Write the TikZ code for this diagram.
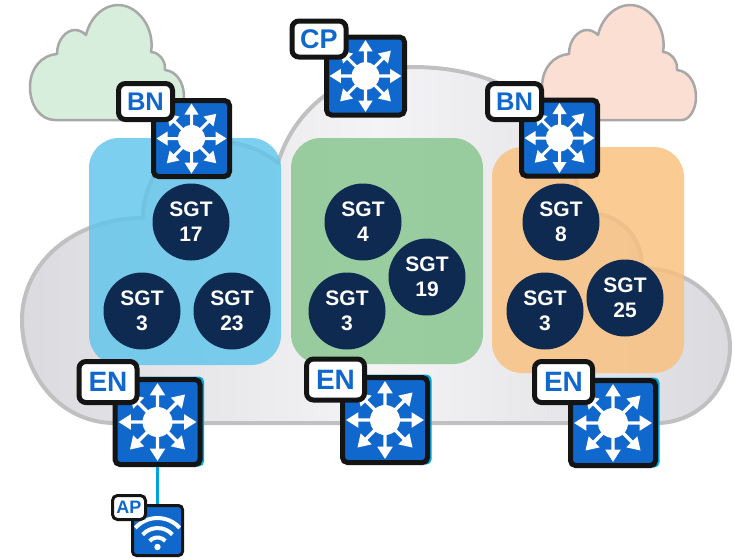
\documentclass[tikz,border=0pt]{standalone}
\usepackage{fontspec}
\setmainfont{Liberation Sans}
\usepackage{tikz}
\tikzstyle{plan} = [x = 1pt, y = -1pt]
\definecolor{cloudLine}{RGB}{192,192,193}
\definecolor{cloudEdge}{RGB}{218,218,223}
\definecolor{cloudMiddle}{RGB}{244,244,246}
\definecolor{smallCloudLine}{RGB}{168,168,168}
\definecolor{greenCloud}{RGB}{214,238,219}
\definecolor{peachCloud}{RGB}{251,223,211}
\definecolor{blueZone}{RGB}{92,196,234}
\definecolor{greenZone}{RGB}{131,195,137}
\definecolor{peachZone}{RGB}{250,191,122}
\definecolor{sgtColor}{RGB}{14,42,80}
\definecolor{switchBlue}{RGB}{16,104,204}
\definecolor{switchBorder}{RGB}{20,20,20}
\definecolor{linkColor}{RGB}{0,165,220}
\tikzstyle{mainCloudStyle} = [draw=cloudLine, line width=4pt, left color=cloudEdge, right color=cloudEdge, middle color=cloudMiddle, line join=round]
\tikzstyle{smallCloudStyle} = [draw=smallCloudLine, line width=2.5pt, line join=round]
\tikzstyle{zoneStyle} = [rounded corners = 30pt, opacity=0.8]
\tikzstyle{sgtStyle} = [circle, fill=sgtColor, text=white, minimum size=77pt, inner sep=0pt, align=center, font=\fontsize{21}{25}\selectfont\bfseries]
\tikzstyle{switchStyle} = [draw=switchBorder, fill=switchBlue, line width=5pt, rounded corners=5pt, inner sep=0pt]
\tikzstyle{edgeStyle} = [fill=linkColor, rounded corners=5pt, inner sep=0pt]
\tikzstyle{tagStyle} = [draw=switchBorder, fill=white, text=switchBlue, line width=5pt, rounded corners=7pt, inner sep=0pt, font=\fontsize{25.5}{26}\selectfont\bfseries]
\tikzstyle{tagLarge} = [tagStyle, minimum width=58pt, minimum height=41pt, font=\fontsize{28}{28}\selectfont\bfseries]
\tikzstyle{tagMedium} = [tagStyle, minimum width=54pt, minimum height=36pt]
\tikzstyle{tagSmall} = [tagStyle, line width=3pt, rounded corners=5pt, minimum width=33pt, minimum height=24pt, font=\fontsize{18}{18}\selectfont\bfseries]
\tikzstyle{linkLine} = [color=linkColor, line width=3pt]
\tikzstyle{wifiLine} = [color=white, line width=4pt]
\newcommand{\smallCloud}[2]{\draw [smallCloudStyle, fill=#2, xshift=#1] (55,120) .. controls (40,120) and (30,105) .. (30,87) .. controls (30,68) and (42,55) .. (57,54) .. controls (57,40) and (66,30) .. (75,30) .. controls (79,30) and (83,32) .. (86,35) .. controls (90,18) and (103,5) .. (118,5) .. controls (138,5) and (155,28) .. (151,52) .. controls (158,52) and (166,60) .. (165,70) .. controls (176,71) and (184,82) .. (184,97) .. controls (184,110) and (177,120) .. (170,120) -- cycle;}
\newcommand{\zone}[5]{\fill [zoneStyle, fill=#5] (#1,#2) rectangle (#3,#4);}
\newcommand{\sgtNode}[4]{\node [sgtStyle] (#1) at (#2,#3) {\raisebox{-2.5pt}{SGT}\\\raisebox{-2.5pt}{#4}};}
\newcommand{\switchIcon}[3]{
  \begin{scope}[shift={(#1,#2)}, scale=#3]
    \fill [white] (0,0) circle (13.5);
    \foreach \direction in {0,45,...,315} {
      \fill [white, rotate=\direction] (10,-1.5) -- (24,-1.5) -- (24,-7) -- (35,0) -- (24,7) -- (24,1.5) -- (10,1.5) -- cycle;
    }
  \end{scope}
}
\newcommand{\switchNode}[4]{
  \node [switchStyle, minimum size=#4pt - 5pt] (#1) at (#2,#3) {};
  \pgfmathsetmacro{\iconScale}{#4 / 81}
  \switchIcon{#2}{#3}{\iconScale}
}
\newcommand{\edgeSwitchNode}[4]{
  \node [edgeStyle, minimum size=#4pt] (#1Edge) at (#2 + 1.5,#3 - 0.5) {};
  \switchNode{#1}{#2}{#3}{#4}
}
\begin{document}
\begin{tikzpicture}[plan]
  \useasboundingbox (0,0) rectangle (734,558);
  \fill [white] (0,0) rectangle (734,558);

  \smallCloud{0pt}{greenCloud}
  \smallCloud{512pt}{peachCloud}
  \draw [mainCloudStyle] (657,423) -- (115,423) .. controls (60,423) and (22,375) .. (22,320) .. controls (22,262) and (75,218) .. (143,218) .. controls (143,175) and (175,141) .. (212,141) .. controls (240,141) and (262,150) .. (278,163) .. controls (295,105) and (350,67) .. (412,67) .. controls (505,67) and (579,112) .. (579,213) .. controls (615,210) and (642,232) .. (642,268) .. controls (692,268) and (730,305) .. (730,347) .. controls (730,392) and (695,423) .. (657,423) -- cycle;

  \zone{89}{138}{281}{365}{blueZone}
  \zone{291}{138}{483}{364}{greenZone}
  \zone{492}{147}{684}{373}{peachZone}

  \sgtNode{sgtBlueTop}{191}{222}{17}
  \sgtNode{sgtBlueLeft}{142}{311}{3}
  \sgtNode{sgtBlueRight}{232}{311}{23}
  \sgtNode{sgtGreenTop}{363}{222}{4}
  \sgtNode{sgtGreenRight}{427}{277}{19}
  \sgtNode{sgtGreenLeft}{347}{311}{3}
  \sgtNode{sgtPeachTop}{561}{222}{8}
  \sgtNode{sgtPeachRight}{625}{298}{25}
  \sgtNode{sgtPeachLeft}{545}{311}{3}

  \switchNode{cpSwitch}{365.5}{76}{83}
  \switchNode{bnLeft}{191.5}{138.5}{81}
  \switchNode{bnRight}{559.5}{138}{81}
  \edgeSwitchNode{enLeft}{157.5}{422}{90}
  \edgeSwitchNode{enMiddle}{385}{420}{90}
  \edgeSwitchNode{enRight}{613}{423}{90}

  \node [switchStyle, line width=3pt, rounded corners=4pt, minimum size=50pt] (apSwitch) at (157.5,530.5) {};
  \draw [linkLine] (enLeft) -- (apSwitch);
  \fill [white] (157.5,547) circle (3.2);
  \draw [wifiLine] (157.5,548) ++(222:30) arc (222:318:30);
  \draw [wifiLine] (157.5,548) ++(222:20) arc (222:318:20);
  \draw [wifiLine] (157.5,548) ++(222:10.5) arc (222:318:10.5);

  \node [tagMedium, font=\fontsize{27}{27}\selectfont\bfseries] (cpTag) at (319,39) {CP};
  \node [tagMedium] (bnLeftTag) at (145.5,101.5) {BN};
  \node [tagMedium] (bnRightTag) at (514.5,101.5) {BN};
  \node [tagLarge] (enLeftTag) at (108,382) {EN};
  \node [tagLarge] (enMiddleTag) at (335.5,379.5) {EN};
  \node [tagLarge] (enRightTag) at (563.5,382) {EN};
  \node [tagSmall] (apTag) at (129,507.5) {AP};
\end{tikzpicture}
\end{document}
